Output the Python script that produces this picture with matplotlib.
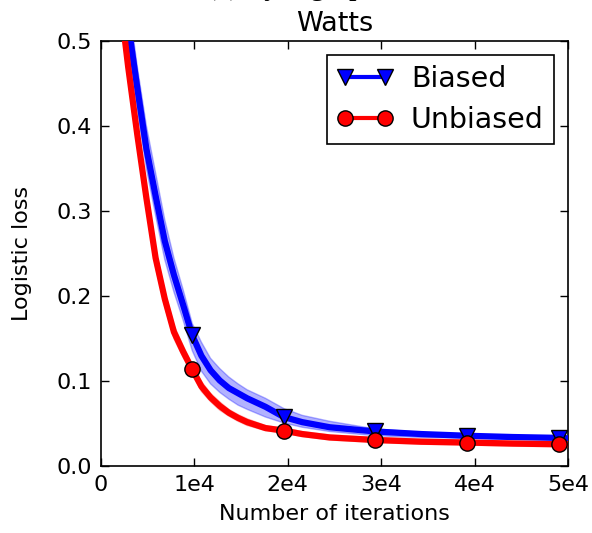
import numpy as np
import matplotlib
matplotlib.use('Agg')
import matplotlib.pyplot as plt
from matplotlib.lines import Line2D

# Iteration grid and mean logistic loss for each estimator
iters = [0, 1960, 2940, 3920, 4900, 5880, 6860, 7840, 8820, 9800,
         10780, 11760, 12740, 13720, 14700, 15680, 17640, 19600, 21560, 24500,
         29400, 34300, 39200, 44100, 49000, 50000]

biased = [0.69, 0.60, 0.52, 0.445, 0.373, 0.318, 0.265, 0.225, 0.190, 0.154,
          0.130, 0.113, 0.101, 0.092, 0.086, 0.080, 0.070, 0.058, 0.052, 0.046,
          0.041, 0.038, 0.036, 0.0345, 0.0335, 0.033]
biased_lo = [0.66, 0.57, 0.49, 0.42, 0.35, 0.295, 0.243, 0.205, 0.172, 0.136,
             0.112, 0.097, 0.087, 0.079, 0.072, 0.067, 0.058, 0.051, 0.046, 0.041,
             0.036, 0.034, 0.033, 0.032, 0.0315, 0.031]
biased_hi = [0.72, 0.63, 0.55, 0.47, 0.40, 0.345, 0.29, 0.245, 0.208, 0.168,
             0.146, 0.127, 0.115, 0.105, 0.097, 0.090, 0.080, 0.068, 0.060, 0.053,
             0.044, 0.040, 0.037, 0.035, 0.0335, 0.033]

unbiased = [0.69, 0.56, 0.47, 0.39, 0.315, 0.245, 0.197, 0.158, 0.135, 0.114,
            0.094, 0.081, 0.071, 0.063, 0.057, 0.052, 0.045, 0.042, 0.038, 0.034,
            0.031, 0.029, 0.028, 0.0268, 0.026, 0.026]
unbiased_spread = [0.02, 0.02, 0.016, 0.014, 0.012, 0.011, 0.009, 0.008, 0.007, 0.006,
                   0.006, 0.005, 0.005, 0.004, 0.004, 0.004, 0.003, 0.003, 0.003, 0.003,
                   0.003, 0.003, 0.003, 0.003, 0.003, 0.003]

mark_idx = [9, 17, 20, 22, 24]
xtick_vals = [0, 10000, 20000, 30000, 40000, 50000]
xtick_labels = ['0', '1e4', '2e4', '3e4', '4e4', '5e4']
ytick_vals = [0.0, 0.1, 0.2, 0.3, 0.4, 0.5]

x = np.array(iters)
u = np.array(unbiased)
us = np.array(unbiased_spread)

fig = plt.figure(figsize=(5.92, 5.33), dpi=100)
ax = fig.add_axes([0.170, 0.125, 0.7895, 0.798])

ax.fill_between(x, biased_lo, biased_hi, color='blue', alpha=0.3, lw=1)
ax.fill_between(x, u - us, u + us, color='red', alpha=0.25, lw=1)
ax.plot(x, biased, color='blue', lw=4.5, marker='v', markersize=11,
        markeredgecolor='black', markeredgewidth=1, markevery=mark_idx, zorder=3)
ax.plot(x, unbiased, color='red', lw=4.5, marker='o', markersize=11,
        markeredgecolor='black', markeredgewidth=1, markevery=mark_idx, zorder=4)

ax.set_xlim(0, 50000)
ax.set_ylim(0, 0.5)
ax.set_xticks(xtick_vals)
ax.set_xticklabels(xtick_labels)
ax.set_yticks(ytick_vals)
ax.tick_params(direction='in', top=True, right=True, length=6, width=1,
               labelsize=16, pad=6)
for s in ax.spines.values():
    s.set_linewidth(1.2)

ax.set_xlabel('Number of iterations', fontsize=16, labelpad=7)
ax.set_ylabel('Logistic loss', fontsize=16, labelpad=18)
ax.set_title('Watts', fontsize=19.5, pad=7)

handles = [
    Line2D([], [], color='blue', lw=3, marker='v', markersize=11,
           markeredgecolor='black', markeredgewidth=1),
    Line2D([], [], color='red', lw=3, marker='o', markersize=11,
           markeredgecolor='black', markeredgewidth=1),
]
leg = ax.legend(handles, ['Biased', 'Unbiased'], loc='upper right', fontsize=20.5,
                numpoints=2, fancybox=False, framealpha=1, edgecolor='black',
                borderaxespad=0.5, labelspacing=0.45, handletextpad=0.6,
                borderpad=0.35)
leg.get_frame().set_linewidth(1.2)

# caption of the panel, mostly above the figure edge
fig.text(206 / 592, 1 - 1 / 533, '(c) Syn. graph', family='Liberation Serif',
         fontsize=22, ha='left', va='bottom')

fig.savefig('out.png', dpi=100)
